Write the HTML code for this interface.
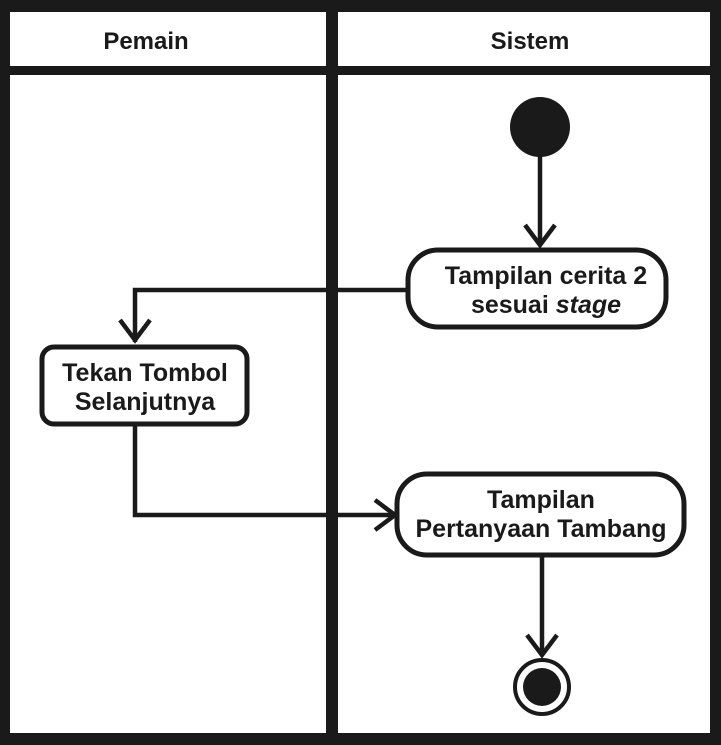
<!DOCTYPE html>
<html><head><style>body{margin:0;background:#fff}</style></head><body>
<svg width="721" height="745" xmlns="http://www.w3.org/2000/svg" style="display:block">
<g fill="#1a1a1a">
<rect x="0" y="0" width="721" height="12"/>
<rect x="0" y="66" width="721" height="9"/>
<rect x="0" y="733" width="721" height="12"/>
<rect x="0" y="0" width="10" height="745"/>
<rect x="326" y="0" width="12" height="745"/>
<rect x="710" y="0" width="11" height="745"/>
</g>
<g font-family="Liberation Sans, Arial, sans-serif" font-weight="bold" font-size="24" fill="#1a1a1a" text-anchor="middle">
<text x="146" y="49">Pemain</text>
<text x="530" y="49">Sistem</text>
</g>
<g stroke="#1a1a1a" stroke-width="4.5" fill="none">
<line x1="540" y1="150" x2="540" y2="245"/>
<polyline points="525,225 540,245 555,225"/>
<polyline points="408,290 135,290 135,342"/>
<polyline points="120,320 135,340 150,320"/>
<polyline points="135,425 135,515 395,515"/>
<polyline points="375,500 395,515 375,530"/>
<line x1="542" y1="557" x2="542" y2="655"/>
<polyline points="527,635 542,655 557,635"/>
</g>
<circle cx="540" cy="127" r="30" fill="#1a1a1a"/>
<circle cx="542" cy="687" r="27" fill="none" stroke="#1a1a1a" stroke-width="4"/>
<circle cx="542" cy="687" r="19" fill="#1a1a1a"/>
<g fill="#fff" stroke="#1a1a1a" stroke-width="5">
<rect x="408" y="250" width="258" height="77" rx="30"/>
<rect x="42" y="347" width="205" height="77" rx="12"/>
<rect x="397" y="474" width="287" height="81" rx="30"/>
</g>
<g font-family="Liberation Sans, Arial, sans-serif" font-weight="bold" font-size="25" fill="#1a1a1a" text-anchor="middle">
<text x="546" y="284">Tampilan cerita 2</text>
<text x="546" y="313">sesuai <tspan font-style="italic">stage</tspan></text>
<text x="145" y="381">Tekan Tombol</text>
<text x="145" y="410">Selanjutnya</text>
<text x="541" y="508">Tampilan</text>
<text x="541" y="537">Pertanyaan Tambang</text>
</g>
</svg>
</body></html>
